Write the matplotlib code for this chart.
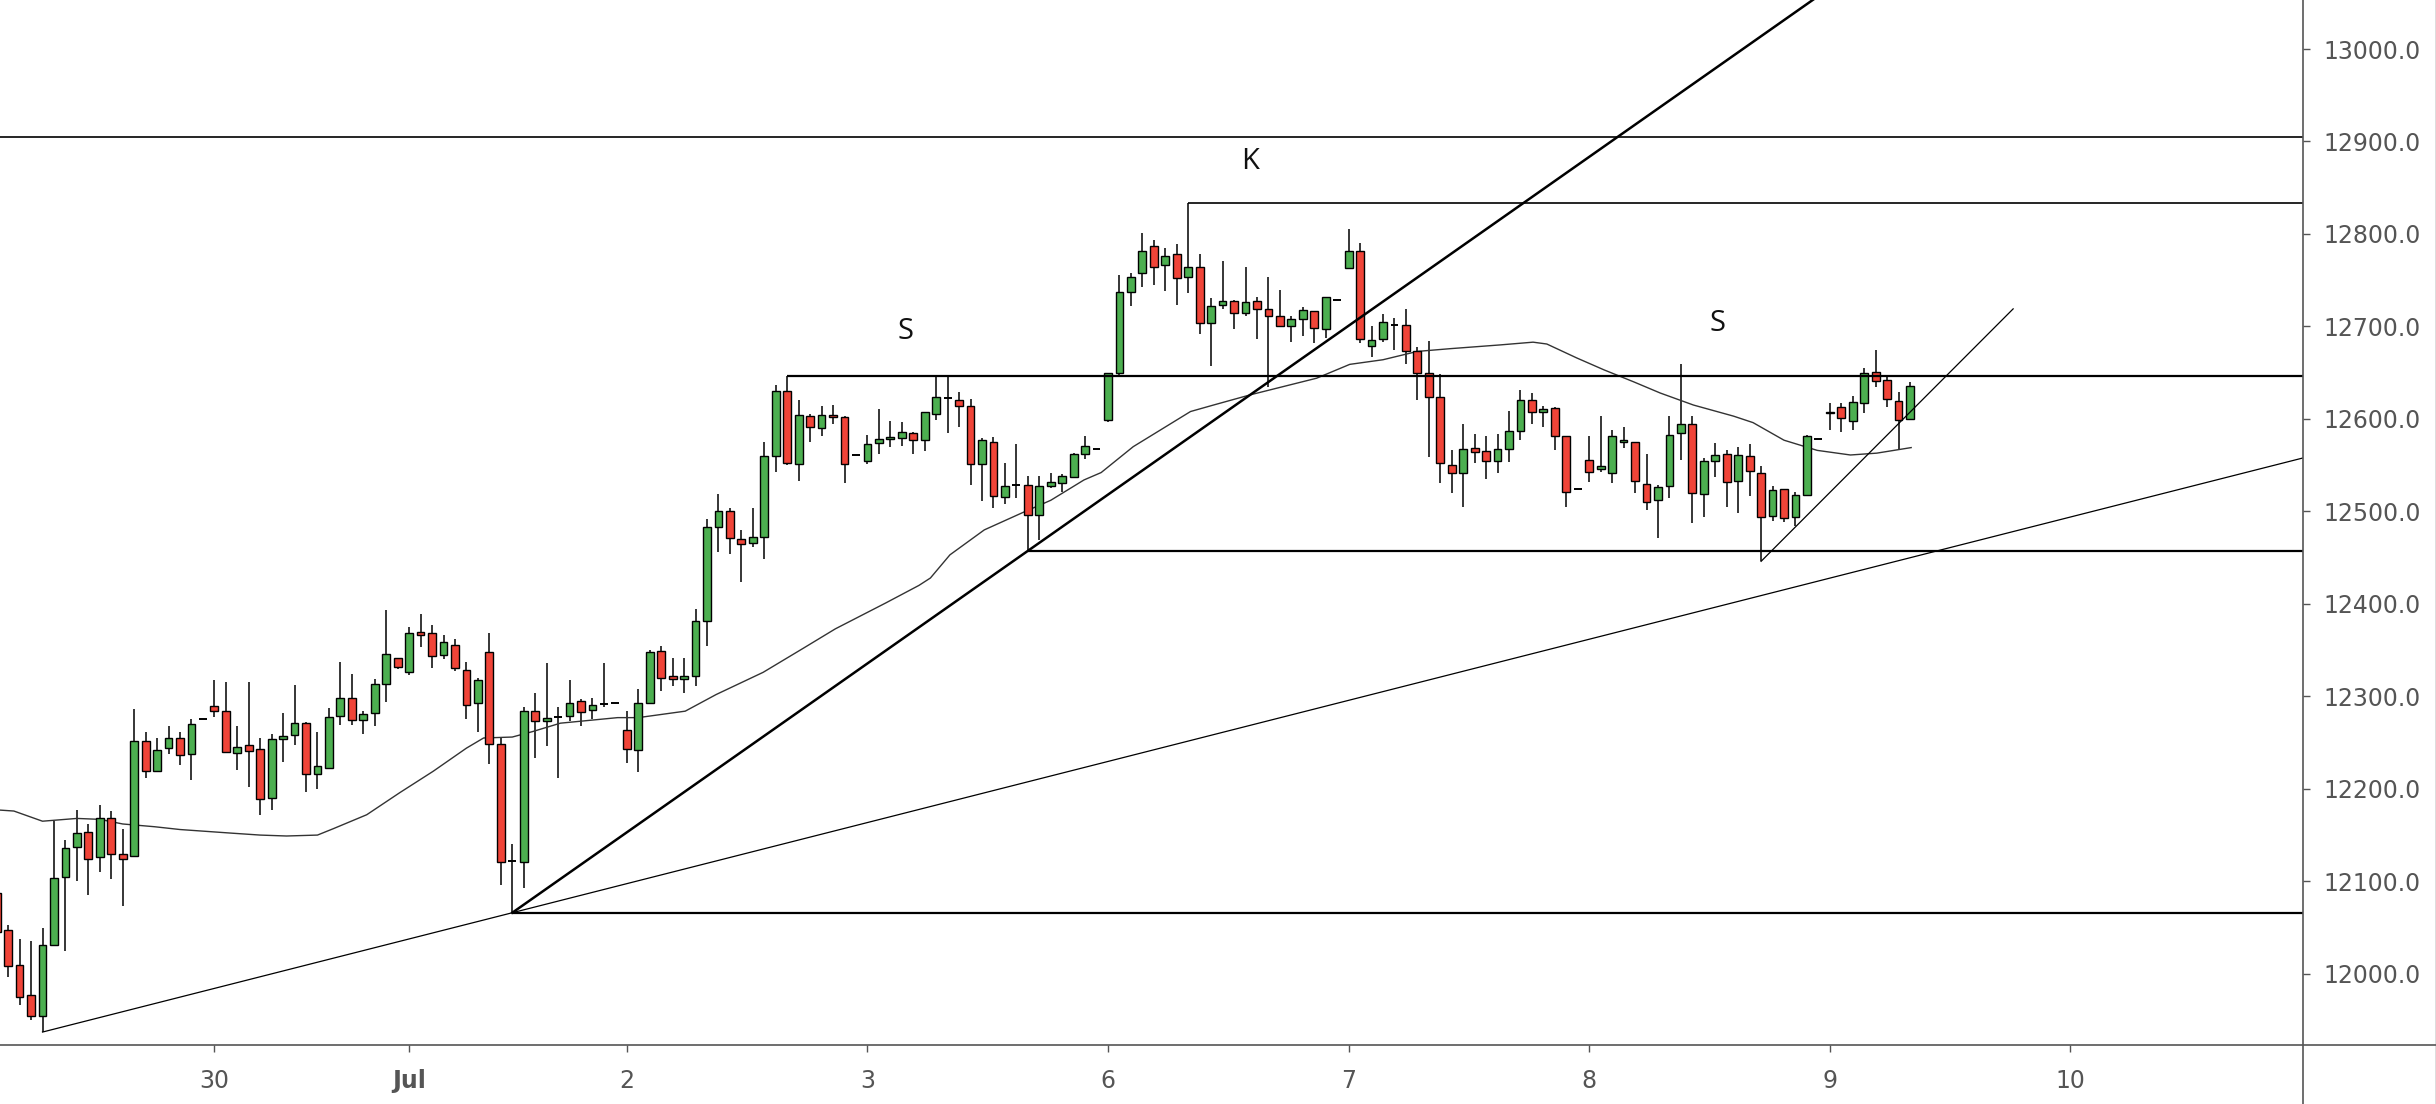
import matplotlib
matplotlib.use("Agg")
import matplotlib.pyplot as plt
from matplotlib.lines import Line2D
import numpy as np

# hourly candles (index = bar number)
opens = [12087, 12047, 12009, 11977, 11954, 12031, 12105, 12137, 12153, 12126,
         12169, 12130, 12127, 12252, 12219, 12244, 12255, 12238, 12275, 12290,
         12284, 12239, 12247, 12243, 12190, 12254, 12258, 12271, 12216, 12223,
         12279, 12298, 12274, 12282, 12313, 12341, 12326, 12370, 12368, 12345,
         12356, 12328, 12293, 12348, 12248, 12122, 12121, 12284, 12273, 12278,
         12279, 12295, 12285, 12292, 12293, 12264, 12242, 12293, 12349, 12322,
         12319, 12322, 12381, 12483, 12500, 12470, 12466, 12472, 12560, 12630,
         12551, 12603, 12590, 12604, 12602, 12561, 12554, 12574, 12578, 12579,
         12585, 12577, 12605, 12623, 12621, 12614, 12551, 12575, 12516, 12529,
         12529, 12496, 12528, 12531, 12537, 12562, 12568, 12599, 12650, 12737,
         12758, 12787, 12766, 12778, 12753, 12764, 12704, 12723, 12727, 12715,
         12727, 12719, 12711, 12701, 12708, 12717, 12697, 12729, 12763, 12782,
         12679, 12686, 12702, 12702, 12673, 12650, 12624, 12550, 12542, 12569,
         12565, 12554, 12568, 12587, 12621, 12607, 12612, 12581, 12524, 12556,
         12546, 12542, 12575, 12575, 12530, 12512, 12528, 12585, 12595, 12519,
         12555, 12562, 12533, 12560, 12542, 12495, 12524, 12494, 12518, 12578,
         12606, 12613, 12598, 12617, 12651, 12642, 12619, 12600]
highs = [12095, 12053, 12038, 12035, 12049, 12165, 12145, 12177, 12162, 12182,
         12176, 12157, 12286, 12261, 12255, 12268, 12261, 12275, 12275, 12318,
         12315, 12268, 12315, 12255, 12259, 12282, 12312, 12272, 12261, 12287,
         12337, 12324, 12284, 12319, 12393, 12342, 12375, 12389, 12377, 12366,
         12362, 12337, 12320, 12369, 12255, 12140, 12288, 12304, 12336, 12289,
         12318, 12297, 12298, 12336, 12293, 12284, 12308, 12350, 12354, 12341,
         12341, 12394, 12492, 12519, 12504, 12480, 12504, 12575, 12637, 12646,
         12621, 12605, 12614, 12615, 12603, 12561, 12583, 12611, 12598, 12597,
         12586, 12607, 12645, 12648, 12629, 12622, 12579, 12580, 12552, 12573,
         12538, 12538, 12541, 12540, 12563, 12582, 12568, 12650, 12756, 12758,
         12801, 12794, 12785, 12789, 12833, 12778, 12731, 12771, 12729, 12764,
         12732, 12753, 12739, 12711, 12721, 12717, 12732, 12729, 12805, 12790,
         12701, 12713, 12709, 12719, 12678, 12684, 12649, 12566, 12595, 12584,
         12581, 12584, 12609, 12631, 12628, 12614, 12613, 12581, 12524, 12581,
         12603, 12588, 12591, 12575, 12562, 12529, 12603, 12659, 12603, 12558,
         12574, 12566, 12570, 12573, 12549, 12527, 12524, 12521, 12583, 12578,
         12617, 12617, 12625, 12655, 12675, 12647, 12629, 12640]
lows = [12035, 11997, 11966, 11950, 11937, 12030, 12025, 12100, 12085, 12110,
        12102, 12073, 12126, 12212, 12218, 12238, 12226, 12210, 12275, 12278,
        12239, 12220, 12202, 12172, 12177, 12229, 12247, 12197, 12200, 12222,
        12269, 12269, 12259, 12268, 12294, 12330, 12323, 12353, 12331, 12340,
        12327, 12276, 12261, 12227, 12096, 12066, 12093, 12233, 12246, 12212,
        12273, 12268, 12275, 12288, 12293, 12228, 12218, 12292, 12306, 12311,
        12304, 12311, 12354, 12456, 12454, 12424, 12461, 12448, 12543, 12550,
        12533, 12575, 12582, 12594, 12531, 12561, 12551, 12562, 12570, 12571,
        12562, 12565, 12599, 12585, 12591, 12529, 12511, 12504, 12508, 12515,
        12457, 12469, 12525, 12521, 12536, 12557, 12568, 12597, 12647, 12722,
        12743, 12745, 12738, 12723, 12736, 12692, 12657, 12719, 12697, 12711,
        12686, 12635, 12699, 12683, 12690, 12682, 12687, 12729, 12763, 12682,
        12667, 12683, 12674, 12659, 12620, 12559, 12531, 12520, 12505, 12552,
        12535, 12542, 12553, 12577, 12594, 12591, 12566, 12505, 12524, 12532,
        12543, 12531, 12569, 12520, 12502, 12471, 12514, 12556, 12487, 12494,
        12537, 12505, 12498, 12517, 12446, 12490, 12488, 12484, 12517, 12578,
        12588, 12586, 12588, 12606, 12635, 12613, 12568, 12600]
closes = [12045, 12008, 11975, 11954, 12031, 12104, 12136, 12152, 12124, 12169,
          12129, 12124, 12252, 12219, 12242, 12255, 12237, 12270, 12275, 12284,
          12240, 12245, 12241, 12189, 12254, 12257, 12271, 12216, 12225, 12278,
          12298, 12274, 12281, 12313, 12346, 12332, 12369, 12366, 12344, 12359,
          12331, 12291, 12318, 12249, 12121, 12122, 12284, 12273, 12277, 12278,
          12293, 12283, 12291, 12292, 12293, 12243, 12293, 12348, 12320, 12319,
          12322, 12381, 12483, 12500, 12471, 12465, 12472, 12560, 12630, 12552,
          12604, 12591, 12604, 12602, 12551, 12561, 12573, 12578, 12580, 12586,
          12577, 12607, 12624, 12623, 12614, 12551, 12577, 12517, 12528, 12529,
          12496, 12528, 12532, 12538, 12562, 12571, 12568, 12650, 12737, 12753,
          12782, 12764, 12776, 12752, 12764, 12704, 12722, 12727, 12715, 12726,
          12719, 12711, 12700, 12708, 12718, 12698, 12732, 12729, 12782, 12686,
          12685, 12705, 12702, 12673, 12650, 12624, 12552, 12541, 12568, 12564,
          12555, 12568, 12587, 12621, 12607, 12611, 12581, 12521, 12524, 12543,
          12549, 12582, 12577, 12533, 12510, 12526, 12583, 12595, 12520, 12555,
          12561, 12532, 12561, 12544, 12494, 12523, 12493, 12518, 12582, 12578,
          12607, 12601, 12618, 12650, 12641, 12622, 12599, 12636]

# moving average line, sampled along the curve
ma_x = [0.3, 1.5, 4, 7, 9, 11, 13.8, 16, 20.6, 23, 25.3, 28, 29.4, 32.3, 35.2,
        38.1, 41, 42.5, 45, 46.8, 49.2, 54.2, 56, 60.1, 62.8, 66.9, 70.4, 73.2,
        77.6, 80.5, 81.5, 83.2, 86.2, 89.6, 92, 94.9, 96.4, 99.2, 104.2, 106.2,
        109.4, 112.3, 115.2, 118.1, 121, 124, 126.9, 131.2, 134.1, 135.3, 137.9,
        140.3, 142.9, 145.2, 148.1, 151.6, 153.3, 156, 158.9, 161.8, 164.1, 167.1]
ma_y = [12177, 12176, 12165, 12168, 12167, 12162, 12159, 12156, 12152, 12150,
        12149, 12150, 12157, 12172, 12196, 12219, 12244, 12255, 12256, 12262,
        12271, 12277, 12277, 12284, 12302, 12326, 12352, 12373, 12401, 12420,
        12428, 12453, 12480, 12499, 12512, 12534, 12542, 12570, 12608, 12615,
        12626, 12635, 12644, 12659, 12664, 12673, 12676, 12680, 12683, 12681,
        12666, 12653, 12640, 12628, 12615, 12603, 12596, 12577, 12566, 12561,
        12563, 12569]

day_ticks = [19, 36, 55, 76, 97, 118, 139, 160, 181]
day_labels = ['30', 'Jul', '2', '3', '6', '7', '8', '9', '10']

# drawn levels: (price, start bar, line width)
levels = [(12905, None, 1.2), (12833, 104, 1.2), (12646, 69, 1.6),
          (12457, 90, 1.6), (12066, 45, 1.6)]

GREEN = '#4caf50'
RED = '#f04438'
GREY = '#555555'

XMIN, XMAX = 0.29, 201.3
YMIN, YMAX = 11923, 13053

fig = plt.figure(figsize=(24.36, 11.04), dpi=100)
ax_bottom = (1104 - 1045) / 1104
ax_right = 2303 / 2436
ax = fig.add_axes([0, ax_bottom, ax_right, 1 - ax_bottom])

idx = np.arange(len(opens))
o = np.array(opens, float)
h = np.array(highs, float)
l = np.array(lows, float)
c = np.array(closes, float)

up = c > o
down = c < o
flat = c == o

# wicks
ax.vlines(idx, l, h, color='black', lw=1.1, zorder=2)

bw = 0.68
lo = np.minimum(o, c)
ht = np.abs(c - o)
ax.bar(idx[up], ht[up], bottom=lo[up], width=bw, color=GREEN,
       edgecolor='black', lw=1.0, zorder=3)
ax.bar(idx[down], ht[down], bottom=lo[down], width=bw, color=RED,
       edgecolor='black', lw=1.0, zorder=3)
ax.hlines(c[flat], idx[flat] - bw / 2, idx[flat] + bw / 2, color='black',
          lw=1.4, zorder=3)

# moving average
ax.plot(ma_x, ma_y, color='#333333', lw=1.0, zorder=2.5)

# horizontal levels
for price, start, lw in levels:
    x0 = XMIN if start is None else start
    ax.plot([x0, XMAX], [price, price], color='black', lw=lw, zorder=4,
            solid_capstyle='butt')

# trend lines
ax.plot([45, 160], [12066, 13066], color='black', lw=1.8, zorder=4)
ax.plot([4, 202], [11937, 12560], color='black', lw=0.9, zorder=4)
ax.plot([154, 176], [12446, 12719], color='black', lw=0.9, zorder=4)

# pattern labels
for x, y, s in [(79.3, 12694, 'S'), (109.4, 12878, 'K'), (150.2, 12703, 'S')]:
    ax.text(x, y, s, fontsize=21, family=['Open Sans', 'DejaVu Sans'],
            color='#111111', ha='center', va='center', zorder=5)

ax.set_xlim(XMIN, XMAX)
ax.set_ylim(YMIN, YMAX)

for sp in ax.spines.values():
    sp.set_visible(False)

ax.yaxis.tick_right()
ax.set_yticks(np.arange(12000, 13001, 100))
ax.set_yticklabels([f'{v:.1f}' for v in np.arange(12000, 13001, 100)])
ax.tick_params(axis='y', length=5, width=1, color=GREY, labelcolor=GREY,
               labelsize=17, pad=10)

ax.set_xticks(day_ticks)
ax.set_xticklabels(day_labels)
ax.tick_params(axis='x', length=5, width=1, color=GREY, labelcolor=GREY,
               labelsize=17, pad=12)
for lab in ax.get_xticklabels():
    if lab.get_text() == 'Jul':
        lab.set_fontweight('bold')

# price-scale and time-scale borders
fig.add_artist(Line2D([ax_right, ax_right], [0, 1], transform=fig.transFigure,
                      color=GREY, lw=1.2))
fig.add_artist(Line2D([0, 1], [ax_bottom, ax_bottom], transform=fig.transFigure,
                      color=GREY, lw=1.2))
fig.add_artist(Line2D([0.9998, 0.9998], [0, 1], transform=fig.transFigure,
                      color=GREY, lw=1.0))

fig.savefig('out.png', dpi=100, facecolor='white')
